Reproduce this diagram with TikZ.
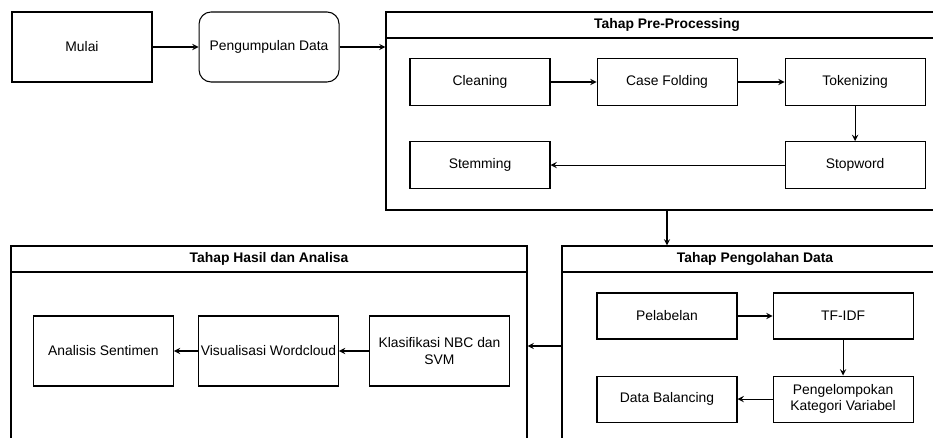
\documentclass[tikz,border=0pt]{standalone}
\usepackage{fontspec}
\setmainfont{Liberation Sans}
\usetikzlibrary{arrows, positioning}
\tikzset{
    startstop/.style={rectangle, rounded corners=0.24cm, minimum width=2.8cm, minimum height=1.4cm, align=center, draw=black, font=\fontsize{7.9}{9.5}\selectfont},
    process/.style={rectangle, minimum width=2.8cm, minimum height=0.94cm, align=center, draw=black, font=\fontsize{7.9}{9.5}\selectfont},
    tallbox/.style={process, minimum height=1.4cm},
    lane/.style={rectangle, draw=black, minimum height=4cm, inner sep=0pt},
    lanehead/.style={rectangle, draw=black, minimum height=0.52cm, inner sep=0pt, align=center, font=\fontsize{7.9}{9.5}\selectfont\bfseries},
    arrow/.style={->,>=stealth}
}

\begin{document}
\begin{tikzpicture}[line width=0.6pt, node distance=0.7cm and 0.92cm]
    \clip (0,0) rectangle (18.66,-8.76);

    % alur awal
    \node (mulai) [tallbox] at (1.64,-0.94) {Mulai};
    \node (kumpul) [startstop, right=of mulai] {Pengumpulan Data};

    % tahap pre-processing
    \node (prep) [lane, minimum width=11.24cm, minimum height=3.96cm] at (13.34,-2.22) {};
    \node (prephead) [lanehead, minimum width=11.24cm, below=0pt of prep.north] {Tahap Pre-Processing};
    \node (clean) [process] at (9.6,-1.64) {Cleaning};
    \node (casefold) [process, right=of clean] {Case Folding};
    \node (token) [process, right=0.94cm of casefold] {Tokenizing};
    \node (stopword) [process, below=of token] {Stopword};
    \node (stem) [process, below=of clean] {Stemming};

    % tahap pengolahan data
    \node (olah) [lane, minimum width=7.72cm] at (15.1,-6.92) {};
    \node (olahhead) [lanehead, minimum width=7.72cm, below=0pt of olah.north] {Tahap Pengolahan Data};
    \node (label) [process, minimum height=0.92cm] at (13.34,-6.32) {Pelabelan};
    \node (tfidf) [process, minimum height=0.92cm, right=0.7cm of label] {TF-IDF};
    \node (kelompok) [process, minimum height=0.92cm, below=0.72cm of tfidf] {Pengelompokan\\Kategori Variabel};
    \node (balance) [process, minimum height=0.92cm, below=0.72cm of label] {Data Balancing};

    % tahap hasil dan analisa
    \node (hasil) [lane, minimum width=10.32cm] at (5.38,-6.92) {};
    \node (hasilhead) [lanehead, minimum width=10.32cm, below=0pt of hasil.north] {Tahap Hasil dan Analisa};
    \node (klas) [tallbox] at (8.79,-7.02) {Klasifikasi NBC dan\\SVM};
    \node (visual) [tallbox, inner xsep=0.5pt, left=0.6cm of klas] {Visualisasi Wordcloud};
    \node (analisis) [tallbox, left=0.48cm of visual] {Analisis Sentimen};

    \draw [arrow] (mulai) -- (kumpul);
    \draw [arrow] (kumpul.east) -- (kumpul.east -| prep.west);
    \draw [arrow] (clean) -- (casefold);
    \draw [arrow] (casefold) -- (token);
    \draw [arrow] (token) -- (stopword);
    \draw [arrow] (stopword) -- (stem);
    \draw [arrow] (prep.south) -- (prep.south |- olah.north);
    \draw [arrow] (label) -- (tfidf);
    \draw [arrow] (tfidf) -- (kelompok);
    \draw [arrow] (kelompok) -- (balance);
    \draw [arrow] (olah.west) -- (hasil.east);
    \draw [arrow] (klas) -- (visual);
    \draw [arrow] (visual) -- (analisis);
\end{tikzpicture}
\end{document}
